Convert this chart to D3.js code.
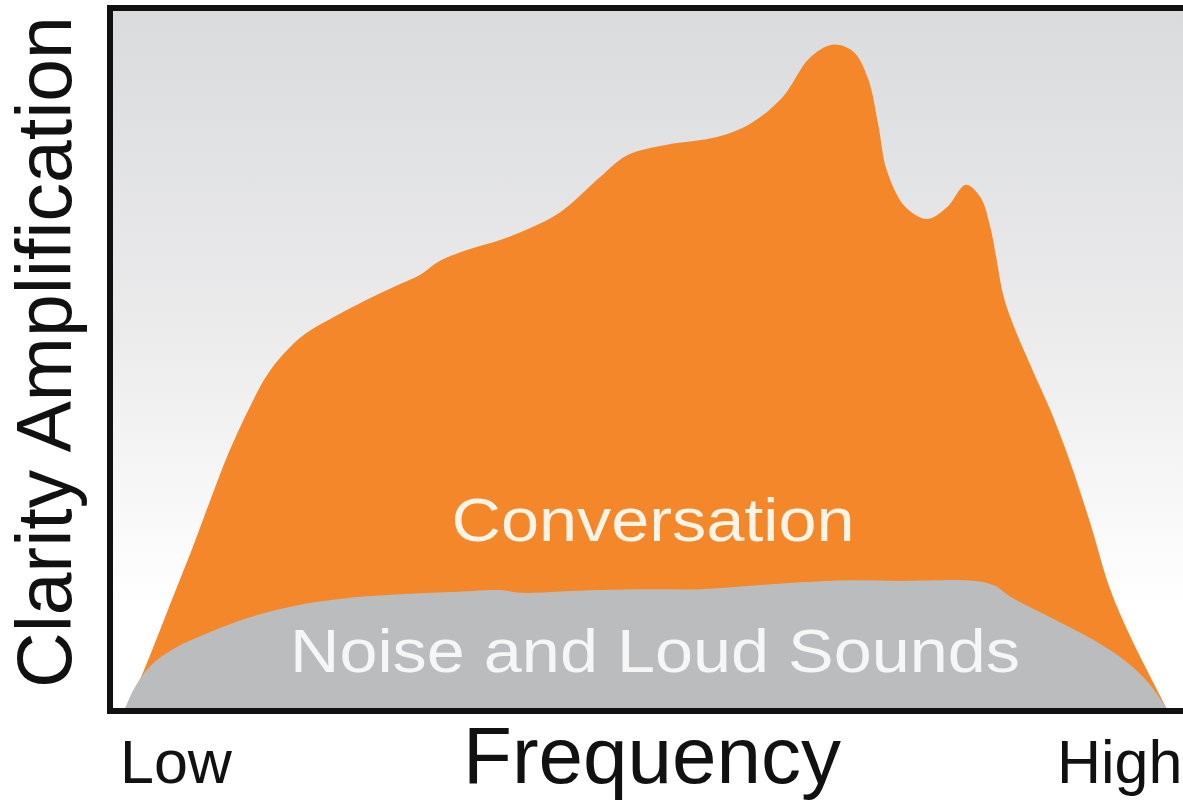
<!DOCTYPE html>
<html>
<head>
<meta charset="utf-8">
<script src="https://cdn.jsdelivr.net/npm/d3@7"></script>
<style>
  html, body { margin: 0; padding: 0; background: #fff; }
  svg { display: block; font-family: "Liberation Sans", Arial, Helvetica, sans-serif; }
</style>
</head>
<body>
<svg></svg>
<script>
const width = 1183;
const height = 801;

// frequency position (0 = low, 100 = high) and amplification (0-100)
const conversationX = [0, 1.4, 2.6, 4.5, 6.4, 8.2, 10.0, 11.9, 13.5, 15.2, 17.3, 19.7, 22.6, 26.4, 28.3, 30.2, 33.1, 36.0, 38.9, 41.8, 45.6, 48.2, 52.0, 56.8, 60.0, 63.1, 65.7, 67.9, 69.9, 71.3, 72.3, 73.1, 74.9, 77.0, 78.9, 80.7, 82.1, 83.0, 83.6, 84.3, 85.4, 87.1, 88.8, 90.7, 92.6, 94.5, 96.4, 98.3, 100];
const conversationY = [0, 4.1, 8.4, 15.6, 22.7, 29.9, 36.8, 42.9, 47.4, 50.7, 53.6, 55.7, 58.0, 60.7, 62.0, 64.0, 65.7, 67.0, 68.7, 71.0, 76.0, 79.1, 80.6, 81.7, 83.6, 87.4, 93.0, 94.9, 93.9, 90.1, 83.4, 77.0, 71.7, 70.0, 71.7, 74.9, 73.1, 69.1, 64.6, 59.0, 54.3, 48.4, 42.7, 35.3, 26.7, 17.3, 10.6, 4.9, 0];

const noiseX = [0, 0.8, 2.4, 4.8, 7.2, 12.0, 16.8, 21.6, 26.4, 31.2, 36.0, 37.9, 41.7, 45.6, 50.4, 55.2, 60.0, 64.8, 69.6, 74.4, 81.6, 83.5, 84.9, 88.8, 93.6, 96.4, 98.3, 100];
const noiseY = [0, 2.7, 6.1, 8.7, 10.4, 13.1, 14.9, 15.9, 16.4, 16.7, 17.0, 16.6, 16.8, 17.0, 17.1, 17.1, 17.6, 18.1, 18.4, 18.3, 18.3, 17.6, 16.1, 13.1, 9.3, 6.4, 3.6, 0];

const seriesNames = ["Conversation", "Noise and Loud Sounds"];
const axisLabels = { y: "Clarity Amplification", x: "Frequency", low: "Low", high: "High" };

const frame = { left: 110, top: 8, bottom: 711, right: 1200 };

const svg = d3.select("svg").attr("width", width).attr("height", height);

// background gradient inside the frame
const defs = svg.append("defs");
const grad = defs.append("linearGradient")
  .attr("id", "bg")
  .attr("x1", 0).attr("y1", 0).attr("x2", 0).attr("y2", 1);
grad.append("stop").attr("offset", "0%").attr("stop-color", "#dadbdd");
grad.append("stop").attr("offset", "45%").attr("stop-color", "#ebebec");
grad.append("stop").attr("offset", "85%").attr("stop-color", "#ffffff");

svg.append("rect")
  .attr("x", frame.left)
  .attr("y", frame.top)
  .attr("width", frame.right - frame.left)
  .attr("height", frame.bottom - frame.top)
  .attr("fill", "url(#bg)");

// scales
const x = d3.scaleLinear().domain([0, 100]).range([125, 1167]);
const y = d3.scaleLinear().domain([0, 100]).range([709, 9]);

const area = d3.area()
  .x((d) => x(d[0]))
  .y0(y(0))
  .y1((d) => y(d[1]))
  .curve(d3.curveCatmullRom.alpha(0.5));

const conversation = conversationX.map((v, i) => [v, conversationY[i]]);
const noise = noiseX.map((v, i) => [v, noiseY[i]]);

svg.append("path")
  .datum(conversation)
  .attr("d", area)
  .attr("fill", "#f4872a");

svg.append("path")
  .datum(noise)
  .attr("d", area)
  .attr("fill", "#bbbcbe");

// frame lines (left, top, bottom; right side runs off the image)
const frameLine = svg.append("g").attr("stroke", "#111").attr("stroke-width", 6).attr("fill", "none");
frameLine.append("path")
  .attr("d", `M${frame.right},${frame.top}H${frame.left}V${frame.bottom}H${frame.right}`);

// series labels
svg.append("text")
  .attr("x", 653)
  .attr("y", 541)
  .attr("text-anchor", "middle")
  .attr("fill", "#fdf4e8")
  .style("font-size", "62px")
  .attr("textLength", 403)
  .attr("lengthAdjust", "spacingAndGlyphs")
  .text(seriesNames[0]);

svg.append("text")
  .attr("x", 655)
  .attr("y", 672)
  .attr("text-anchor", "middle")
  .attr("fill", "#f6f6f6")
  .style("font-size", "62px")
  .attr("textLength", 730)
  .attr("lengthAdjust", "spacingAndGlyphs")
  .text(seriesNames[1]);

// axis labels
svg.append("text")
  .attr("transform", "translate(71,352) rotate(-90)")
  .attr("text-anchor", "middle")
  .attr("fill", "#111")
  .style("font-size", "77px")
  .text(axisLabels.y);

svg.append("text")
  .attr("x", 652)
  .attr("y", 783)
  .attr("text-anchor", "middle")
  .attr("fill", "#111")
  .style("font-size", "80px")
  .text(axisLabels.x);

svg.append("text")
  .attr("x", 120)
  .attr("y", 783)
  .attr("fill", "#111")
  .style("font-size", "61px")
  .text(axisLabels.low);

svg.append("text")
  .attr("x", 1057)
  .attr("y", 783)
  .attr("fill", "#111")
  .style("font-size", "61px")
  .text(axisLabels.high);
</script>
</body>
</html>
